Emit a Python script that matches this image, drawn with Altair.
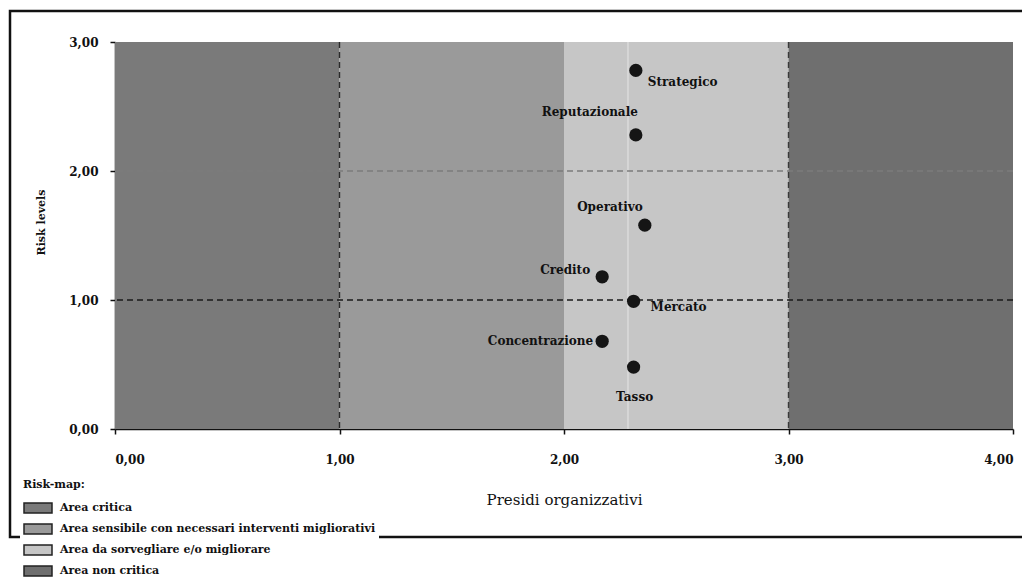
import altair as alt
import pandas as pd

# ---------------- data ----------------
areas = [
    "Area critica",
    "Area sensibile con necessari interventi migliorativi",
    "Area da sorvegliare e/o migliorare",
    "Area non critica",
]
area_start = [0, 1, 2, 3]
area_end = [1, 2, 3, 4]
area_colors = ["#7a7a7a", "#9a9a9a", "#c6c6c6", "#6f6f6f"]

risks = ["Strategico", "Reputazionale", "Operativo", "Credito",
         "Mercato", "Concentrazione", "Tasso"]
presidi = [2.32, 2.32, 2.36, 2.17, 2.31, 2.17, 2.31]
risk_levels = [2.78, 2.28, 1.58, 1.18, 0.99, 0.68, 0.48]

x_ticks = [0, 1, 2, 3, 4]
x_tick_labels = ["0,00", "1,00", "2,00", "3,00", "4,00"]
y_ticks = [0, 1, 2, 3]
y_tick_labels = ["0,00", "1,00", "2,00", "3,00"]

h_lines = [1, 2]
v_lines = [1, 3]
light_line = [2.285]

# ---------------- helpers ----------------
def label_expr(vals, labs):
    expr = "''"
    for v, l in reversed(list(zip(vals, labs))):
        expr = f"datum.value == {v} ? '{l}' : ({expr})"
    return expr

FONT = "DejaVu Serif"
INK = "#111111"

xscale = alt.Scale(domain=[0, 4], nice=False, zero=False)
yscale = alt.Scale(domain=[0, 3], nice=False, zero=False)

x_axis = alt.Axis(values=x_ticks, labelExpr=label_expr(x_ticks, x_tick_labels),
                  title="Presidi organizzativi", grid=False,
                  domainColor=INK, domainWidth=1.5, tickColor=INK, tickWidth=1.5,
                  tickSize=5, labelPadding=20, labelFont=FONT, labelFontSize=12,
                  labelFontWeight="bold", labelColor=INK,
                  titleFont=FONT, titleFontSize=15, titleFontWeight="normal",
                  titleColor=INK, titleY=63, titleBaseline="top")
y_axis = alt.Axis(values=y_ticks, labelExpr=label_expr(y_ticks, y_tick_labels),
                  title="Risk levels", grid=False,
                  domainColor=INK, domainWidth=1.5, tickColor=INK, tickWidth=1.5,
                  tickSize=5, labelPadding=12, labelFont=FONT, labelFontSize=12,
                  labelFontWeight="bold", labelColor=INK,
                  titleFont=FONT, titleFontSize=11, titleFontWeight="bold",
                  titleColor=INK, titleX=-69, titleY=180)

bands_df = pd.DataFrame({"area": areas, "start": area_start, "end": area_end})
pts_df = pd.DataFrame({"risk": risks, "x": presidi, "y": risk_levels})

legend = alt.Legend(
    title="Risk-map:", orient="none", legendX=-95, legendY=434, zindex=2,
    symbolType="M-1,-1L4.6,-1L4.6,1L-1,1Z", symbolSize=100,
    symbolStrokeColor="#222222", symbolStrokeWidth=1.5, symbolOpacity=1,
    labelOffset=25, rowPadding=5, titlePadding=12, padding=3,
    fillColor="white", labelLimit=600,
    labelFont=FONT, labelFontSize=11, labelFontWeight="bold", labelColor=INK,
    titleFont=FONT, titleFontSize=11, titleFontWeight="bold", titleColor=INK,
)

bands = alt.Chart(bands_df).mark_rect().encode(
    x=alt.X("start:Q", scale=xscale, axis=x_axis),
    x2="end:Q",
    color=alt.Color("area:N", scale=alt.Scale(domain=areas, range=area_colors),
                    legend=legend, sort=areas),
)

light = alt.Chart(pd.DataFrame({"x": light_line})).mark_rule(
    color="#e6e6e6", strokeWidth=1.2, opacity=0.8
).encode(x=alt.X("x:Q", scale=xscale, axis=x_axis))

h_styles = {1: ("#1a1a1a", 1.6), 2: ("#7c7c7c", 1.6)}
v_styles = {1: ("#2a2a2a", 1.4), 3: ("#3a3a3a", 1.4)}

rules = []
for v in h_lines:
    c, w = h_styles[v]
    rules.append(alt.Chart(pd.DataFrame({"y": [v]})).mark_rule(
        color=c, strokeWidth=w, strokeDash=[6, 4]
    ).encode(y=alt.Y("y:Q", scale=yscale, axis=y_axis)))
for v in v_lines:
    c, w = v_styles[v]
    rules.append(alt.Chart(pd.DataFrame({"x": [v]})).mark_rule(
        color=c, strokeWidth=w, strokeDash=[6, 4]
    ).encode(x=alt.X("x:Q", scale=xscale, axis=x_axis)))

points = alt.Chart(pts_df).mark_circle(size=175, color="#151515", opacity=1).encode(
    x=alt.X("x:Q", scale=xscale, axis=x_axis),
    y=alt.Y("y:Q", scale=yscale, axis=y_axis),
)

label_style = {
    "Strategico": ("left", 12, 12),
    "Reputazionale": ("right", 2, -23),
    "Operativo": ("right", -2, -18),
    "Credito": ("right", -12, -7),
    "Mercato": ("left", 17, 6),
    "Concentrazione": ("right", -9, 0),
    "Tasso": ("center", 1, 30),
}
texts = []
for name in risks:
    al, dx, dy = label_style[name]
    texts.append(alt.Chart(pts_df).transform_filter(alt.datum.risk == name).mark_text(
        font=FONT, fontSize=12, fontWeight="bold", color=INK,
        align=al, baseline="middle", dx=dx, dy=dy
    ).encode(
        x=alt.X("x:Q", scale=xscale, axis=x_axis),
        y=alt.Y("y:Q", scale=yscale, axis=y_axis),
        text="risk:N",
    ))

frame = alt.Chart(pd.DataFrame({"a": [0]})).mark_rect(
    fillOpacity=0, stroke="#111111", strokeWidth=2.5
).encode(x=alt.value(-105), x2=alt.value(930), y=alt.value(-31), y2=alt.value(495))

chart = alt.layer(frame, bands, light, *rules, points, *texts).properties(
    width=898, height=387,
    autosize=alt.AutoSizeParams(type="none"),
    padding={"left": 107, "top": 34, "right": 9, "bottom": 148},
    background="white",
).configure_view(strokeWidth=0)

chart.save("out.html", embed_options={"renderer": "svg", "actions": False})
